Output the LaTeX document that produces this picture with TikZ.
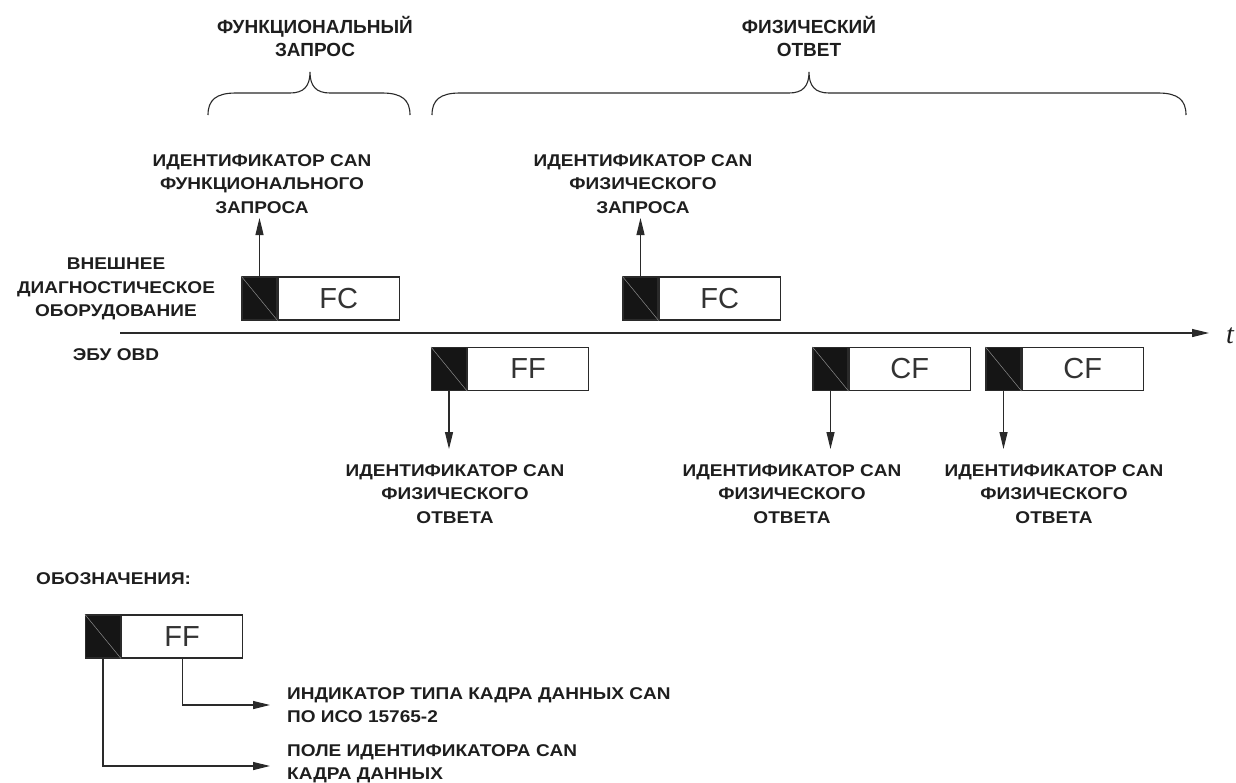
\documentclass[tikz,border=0pt]{standalone}
\usepackage{fontspec}
\setmainfont{Liberation Sans}
\newfontfamily\lblfont[FakeStretch=1.12]{Liberation Sans}
\newfontfamily\tfont{Liberation Serif}
\usetikzlibrary{arrows.meta}
\definecolor{txt}{HTML}{1E1E1E}
\definecolor{ln}{HTML}{2A2A2A}
\definecolor{blk}{HTML}{151515}
\begin{document}
\begin{tikzpicture}[x=1pt,y=-1pt,
  lbl/.style={font=\lblfont\bfseries\fontsize{17}{23.3}\selectfont, align=center, inner sep=0pt, text=txt},
  hdr/.style={font=\bfseries\fontsize{19}{23}\selectfont, align=center, inner sep=0pt, text=txt},
  idpart/.style={draw=ln, fill=blk, minimum width=35pt, minimum height=43pt, inner sep=0pt, line width=1.2pt},
  frm/.style={draw=ln, fill=white, minimum width=121pt, minimum height=43pt, inner sep=0pt, line width=1.2pt, font=\fontsize{29}{29}\selectfont, text=black!80},
  diag/.style={draw=black!45, line width=0.5pt},
  arr/.style={-{Triangle[length=17pt,width=8pt]}, line width=1.2pt, draw=ln},
  brc/.style={line width=1.1pt, draw=ln}]
\useasboundingbox (0,0) rectangle (1236,782);

% headers and braces
\node[hdr] (h1) at (315,36.5) {ФУНКЦИОНАЛЬНЫЙ\\ЗАПРОС};
\node[hdr] (h2) at (809,36.5) {ФИЗИЧЕСКИЙ\\ОТВЕТ};
\draw[brc] (208,115) .. controls (208,100) and (216,93) .. (236,93) -- (290,93)
  .. controls (304,93) and (310,86) .. (310,72)
  .. controls (310,86) and (316,93) .. (330,93) -- (382,93)
  .. controls (402,93) and (410,100) .. (410,115);
\draw[brc] (432,115) .. controls (432,100) and (440,93) .. (460,93) -- (789,93)
  .. controls (803,93) and (809,86) .. (809,72)
  .. controls (809,86) and (815,93) .. (829,93) -- (1158,93)
  .. controls (1178,93) and (1186,100) .. (1186,115);

% left labels
\node[lbl] (ext) at (116,289) {ВНЕШНЕЕ\\ДИАГНОСТИЧЕСКОЕ\\ОБОРУДОВАНИЕ};
\node[lbl] (ecu) at (116,355) {ЭБУ OBD};

% time axis
\coordinate (ax0) at (120,333);
\coordinate (ax1) at (1209,333);
\draw[arr] (ax0) -- (ax1);
\node[anchor=base west, inner sep=0pt, font=\tfont\itshape\fontsize{28}{28}\selectfont, text=txt] (tl) at (1226,343) {t};

% frames
\node[idpart] (b1) at (259.5,298.5) {};
\node[frm, anchor=west] (f1) at (b1.east) {FC};
\node[idpart] (b2) at (640.5,298.5) {};
\node[frm, anchor=west] (f2) at (b2.east) {FC};
\node[idpart] (b3) at (449,369) {};
\node[frm, anchor=west] (f3) at (b3.east) {FF};
\node[idpart] (b4) at (830.5,369) {};
\node[frm, anchor=west] (f4) at (b4.east) {CF};
\node[idpart] (b5) at (1003.5,369) {};
\node[frm, anchor=west] (f5) at (b5.east) {CF};
\foreach \b in {b1,b2,b3,b4,b5} \draw[diag] (\b.north west) -- (\b.south east);

% labels
\node[lbl] (l1) at (262,184) {ИДЕНТИФИКАТОР CAN\\ФУНКЦИОНАЛЬНОГО\\ЗАПРОСА};
\node[lbl] (l2) at (643,184) {ИДЕНТИФИКАТОР CAN\\ФИЗИЧЕСКОГО\\ЗАПРОСА};
\node[lbl] (l3) at (455,494) {ИДЕНТИФИКАТОР CAN\\ФИЗИЧЕСКОГО\\ОТВЕТА};
\node[lbl] (l4) at (792,494) {ИДЕНТИФИКАТОР CAN\\ФИЗИЧЕСКОГО\\ОТВЕТА};
\node[lbl] (l5) at (1054,494) {ИДЕНТИФИКАТОР CAN\\ФИЗИЧЕСКОГО\\ОТВЕТА};

% arrows
\coordinate (u1) at (259.5,218);
\coordinate (u2) at (640.5,218);
\coordinate (d3) at (449,449);
\coordinate (d4) at (830.5,449);
\coordinate (d5) at (1003.5,449);
\draw[arr] (b1.north) -- (u1);
\draw[arr] (b2.north) -- (u2);
\draw[arr] (b3.south) -- (d3);
\draw[arr] (b4.south) -- (d4);
\draw[arr] (b5.south) -- (d5);

% legend
\node[lbl, anchor=west] (leg) at (36,579) {ОБОЗНАЧЕНИЯ:};
\node[idpart] (lb) at (103,636.5) {};
\node[frm, anchor=west] (lf) at (lb.east) {FF};
\draw[diag] (lb.north west) -- (lb.south east);
\coordinate (c1) at (270,705);
\coordinate (c2) at (270,766);
\draw[arr] (lf.south) |- (c1);
\draw[arr] (lb.south) |- (c2);
\node[lbl, align=left, anchor=west] (t1) at (287,705) {ИНДИКАТОР ТИПА КАДРА ДАННЫХ CAN\\ПО ИСО 15765-2};
\node[lbl, align=left, anchor=west] (t2) at (287,764) {ПОЛЕ ИДЕНТИФИКАТОРА CAN\\КАДРА ДАННЫХ};
\end{tikzpicture}
\end{document}
